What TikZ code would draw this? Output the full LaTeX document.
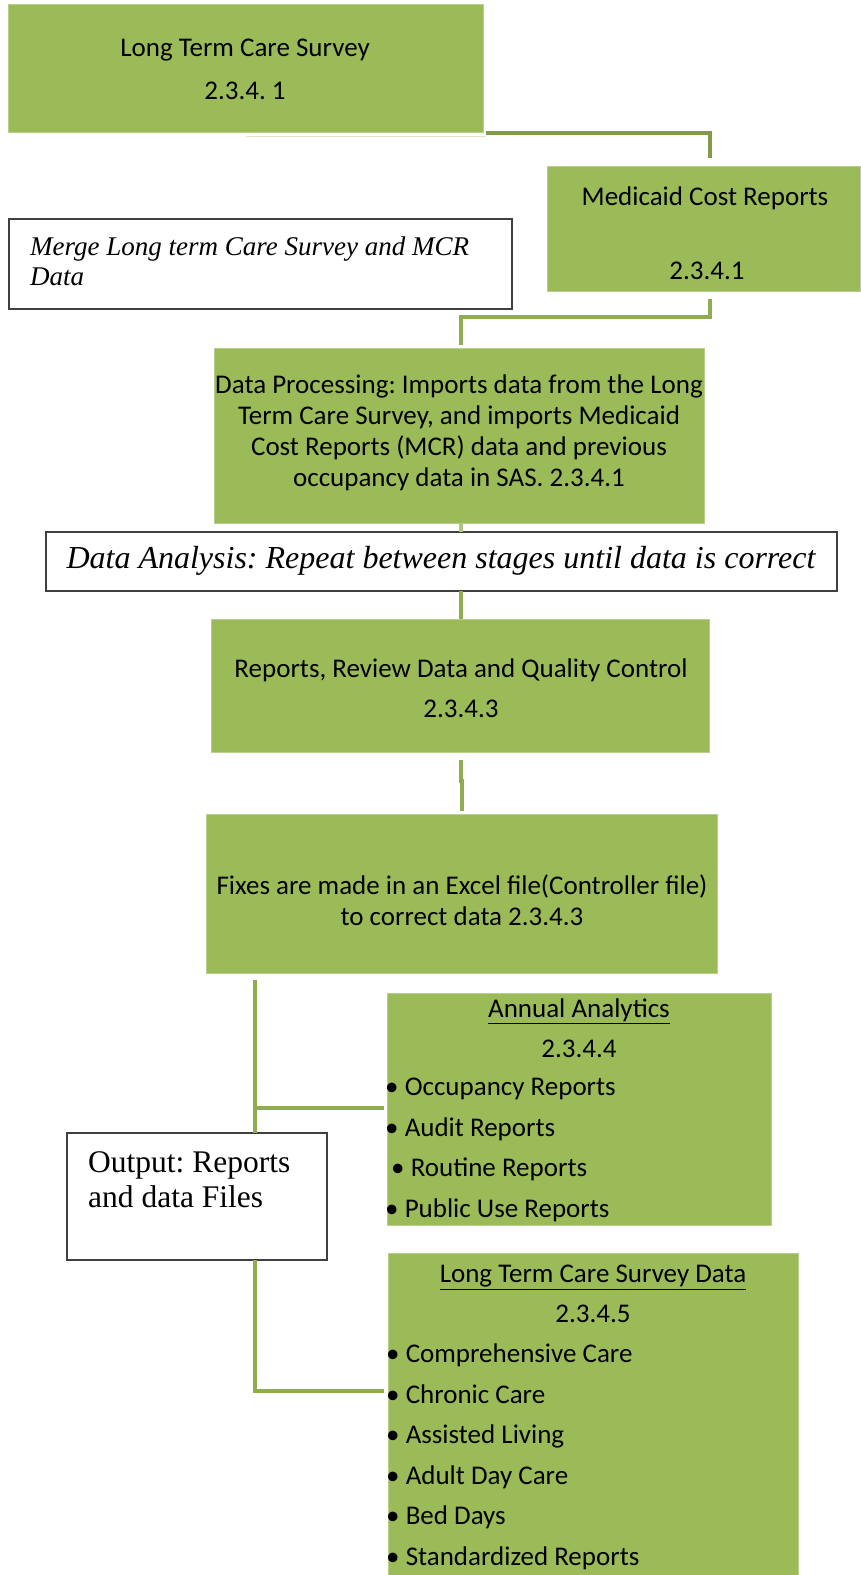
\documentclass[tikz,border=0pt]{standalone}
\usepackage{fontspec}
\setmainfont{Carlito}
\newfontfamily\tnr{Liberation Serif}
\definecolor{boxgreen}{HTML}{9BBB59}
\definecolor{linegreen}{HTML}{8FAC52}
\definecolor{edgegreen}{HTML}{B8CF8C}
\definecolor{darkedge}{HTML}{404040}
\frenchspacing
\begin{document}
\begin{tikzpicture}[x=1pt,y=-1pt,
  gbox/.style={fill=boxgreen,draw=edgegreen,line width=0.6pt,anchor=north west,inner sep=0pt,outer sep=0pt},
  wbox/.style={fill=white,draw=darkedge,line width=1.3pt,anchor=north west,inner sep=0pt,outer sep=0pt},
  ctxt/.style={align=center,inner sep=0pt,font=\fontsize{27}{31}\selectfont},
  ltxt/.style={align=left,inner sep=0pt,anchor=west,font=\fontsize{27}{40.5}\selectfont},
  conn/.style={draw=linegreen,line width=4.5pt}]
\useasboundingbox (0,0) rectangle (860,1575);
% boxes
\node[gbox,minimum width=475pt,minimum height=128pt] (b1) at (8,4) {};
\node[gbox,minimum width=313pt,minimum height=125pt] (mcr) at (547,166) {};
\node[wbox,minimum width=503pt,minimum height=90pt] (merge) at (9,219) {};
\node[gbox,minimum width=490pt,minimum height=175pt] (dp) at (214,348) {};
\node[wbox,minimum width=791pt,minimum height=59pt] (da) at (46,532) {};
\node[gbox,minimum width=498pt,minimum height=133pt] (rep) at (211,619) {};
\node[gbox,minimum width=511pt,minimum height=159pt] (fix) at (206,814) {};
\node[gbox,minimum width=384pt,minimum height=232pt] (aa) at (387,993) {};
\node[wbox,minimum width=260pt,minimum height=127pt] (out) at (67,1133) {};
\node[gbox,minimum width=410pt,minimum height=330pt] (ltcs) at (388,1253) {};
% texts
\node[ctxt,font=\fontsize{27}{43}\selectfont] (b1t) at (245,69) {Long Term Care Survey\\2.3.4. 1};
\node[ctxt] (mcrt1) at (705,198) {Medicaid Cost Reports};
\node[ctxt] (mcrt2) at (707,271) {2.3.4.1};
\node[align=left,inner sep=0pt,anchor=west,font=\tnr\itshape\fontsize{27}{30}\selectfont] (mergt) at (30,261) {Merge Long term Care Survey and MCR\\Data};
\node[ctxt] (dpt) at (459,433) {Data Processing: Imports data from the Long\\Term Care Survey, and imports Medicaid\\Cost Reports (MCR) data and previous\\occupancy data in SAS. 2.3.4.1};
\node[inner sep=0pt,font=\tnr\itshape\fontsize{32}{36}\selectfont] (dat) at (441,561) {Data Analysis: Repeat between stages until data is correct};
\node[ctxt,font=\fontsize{27}{40}\selectfont] (rept) at (461,688) {Reports, Review Data and Quality Control\\2.3.4.3};
\node[ctxt] (fixt) at (462,900) {Fixes are made in an Excel file(Controller file)\\to correct data 2.3.4.3};
\node[ctxt,font=\fontsize{27}{40}\selectfont] (aat) at (579,1028) {\underline{Annual Analytics}\\2.3.4.4};
\node[ltxt] (aal) at (385,1150) {• Occupancy Reports\\• Audit Reports\\\hspace{6pt}• Routine Reports\\• Public Use Reports};
\node[align=left,inner sep=0pt,anchor=west,font=\tnr\fontsize{31.5}{35}\selectfont] (outt) at (88,1180) {Output: Reports\\and data Files};
\node[ctxt,font=\fontsize{27}{40}\selectfont] (ltcst) at (593,1294) {\underline{Long Term Care Survey Data}\\2.3.4.5};
\node[ltxt] (ltcsl) at (386,1457) {• Comprehensive Care\\• Chronic Care\\• Assisted Living\\• Adult Day Care\\• Bed Days\\• Standardized Reports};
% connectors
\coordinate (c1a) at (486,133);
\coordinate (c1b) at (710,133);
\coordinate (c1c) at (710,158);
\draw[draw=edgegreen!50,line width=1pt] (246,136) -- (486,136);
\draw[conn,draw=linegreen!90!black] (c1a) -- (c1b) -- (c1c);
\coordinate (c2a) at (710,299);
\coordinate (c2b) at (710,317);
\coordinate (c2c) at (461,317);
\coordinate (c2d) at (461,345);
\draw[conn] (c2a) -- (c2b) -- (c2c) -- (c2d);
\draw[conn] (da.south -| 461,0) -- (rep.north -| 461,0);
\coordinate (c3a) at (461,760);
\coordinate (c3j) at (461,781);
\coordinate (c3k) at (462,781);
\coordinate (c3b) at (462,811);
\draw[conn] (c3a) -- (c3j) -- (c3k) -- (c3b);
\coordinate (t1) at (255,980);
\coordinate (t2) at (255,1391);
\coordinate (t3) at (384,1391);
\coordinate (br1) at (255,1108);
\coordinate (br2) at (384,1108);
\draw[conn] (t1) -- (out.north -| t1);
\draw[conn] (out.south -| t1) -- (t2) -- (t3);
\draw[conn] (br1) -- (br2);
\draw[conn,draw=linegreen!70] (dp.south -| 461,0) -- (da.north -| 461,0);
\end{tikzpicture}
\end{document}
